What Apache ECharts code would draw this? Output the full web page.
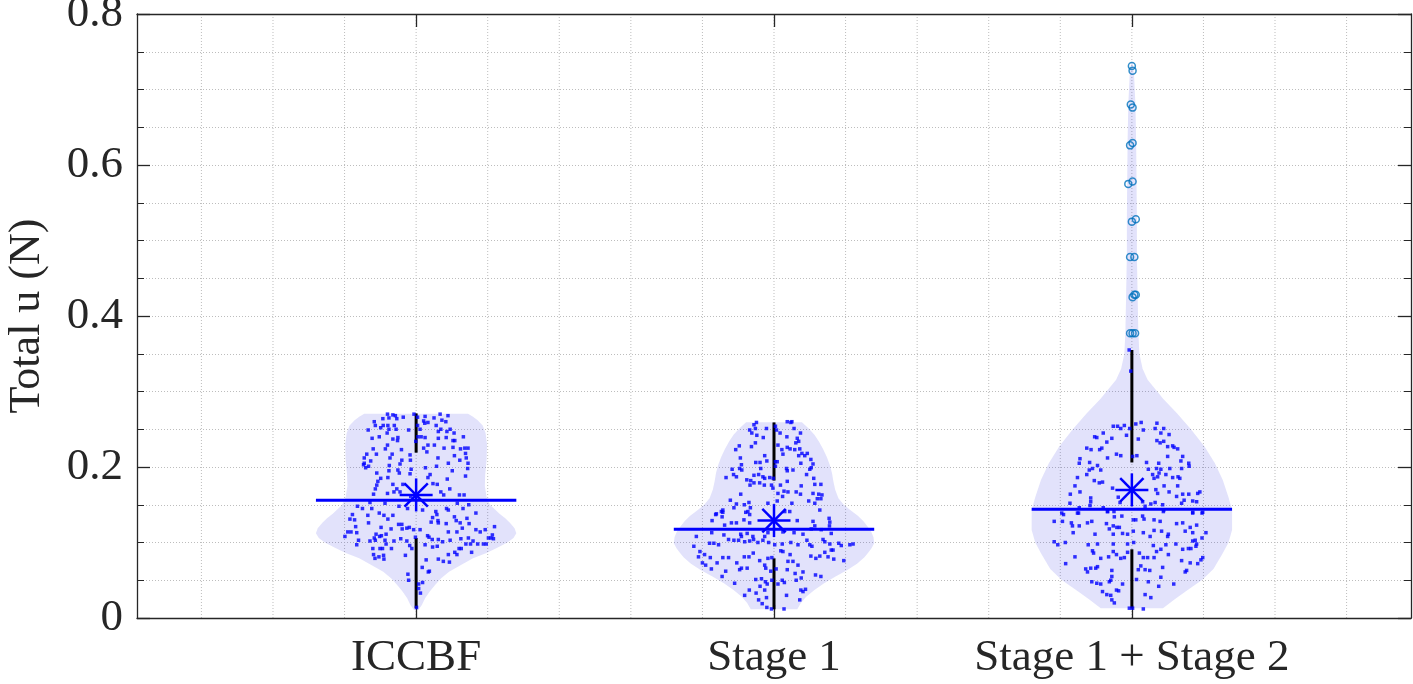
<!DOCTYPE html>
<html><head><meta charset="utf-8">
<script src="https://cdn.jsdelivr.net/npm/echarts@6/dist/echarts.min.js"></script>
<style>html,body{margin:0;padding:0;background:#fff}#c{width:1413px;height:684px}</style>
</head><body><div id="c"></div>
<script>
// ---------------- data ----------------
const categories = ['ICCBF', 'Stage 1', 'Stage 1 + Stage 2'];
const categoryX = [1, 2, 3];
const yAxisName = 'Total u (N)';
const xGridValues = [0.4,0.6,0.8,1,1.2,1.4,1.6,1.8,2,2.2,2.4,2.6,2.8,3,3.2,3.4,3.6];

// violin outlines: [y, half width in x-axis units], bottom to top
const iccbfViolin = [[0.0106,0.006],[0.0172,0.016],[0.0261,0.025],[0.035,0.038],[0.0437,0.053],[0.0526,0.07],[0.0614,0.092],[0.070,0.124],[0.0791,0.159],[0.0857,0.195],[0.0923,0.224],[0.100,0.255],[0.106,0.272],[0.1122,0.28],[0.119,0.275],[0.126,0.262],[0.1321,0.249],[0.138,0.233],[0.143,0.222],[0.1498,0.207],[0.16,0.197],[0.175,0.192],[0.19,0.193],[0.21,0.197],[0.23,0.198],[0.245,0.194],[0.255,0.186],[0.262,0.172],[0.267,0.158],[0.2705,0.145]];
const stage1Violin = [[0.0115,0.065],[0.02,0.075],[0.0283,0.09],[0.037,0.113],[0.046,0.14],[0.055,0.172],[0.0636,0.205],[0.072,0.232],[0.08,0.252],[0.0857,0.262],[0.092,0.272],[0.099,0.28],[0.107,0.278],[0.114,0.272],[0.121,0.262],[0.128,0.25],[0.135,0.235],[0.1432,0.213],[0.15,0.195],[0.1586,0.18],[0.17,0.171],[0.1807,0.166],[0.192,0.162],[0.2028,0.156],[0.214,0.147],[0.2249,0.136],[0.234,0.125],[0.2426,0.113],[0.251,0.097],[0.2594,0.078]];
const stage12Violin = [[0.0128,0.087],[0.0239,0.117],[0.035,0.15],[0.0504,0.196],[0.065,0.228],[0.0857,0.254],[0.1,0.27],[0.1166,0.28],[0.1432,0.28],[0.16,0.27],[0.1829,0.254],[0.205,0.232],[0.2271,0.203],[0.25,0.165],[0.2713,0.126],[0.29,0.088],[0.3155,0.044],[0.33,0.03],[0.35,0.021],[0.38,0.018],[0.43,0.016],[0.48,0.014],[0.53,0.014],[0.58,0.013],[0.63,0.012],[0.68,0.01],[0.72,0.006],[0.735,0.002]];

// individual samples: [x offset from category, value]
const iccbfSamples = [[-0.080,0.270],[-0.065,0.269],[-0.058,0.268],[-0.006,0.270],[0.025,0.267],[0.067,0.270],[0.089,0.268],[-0.093,0.264],[-0.076,0.265],[-0.054,0.264],[-0.036,0.266],[0.004,0.266],[0.021,0.261],[0.033,0.259],[0.050,0.265],[0.072,0.262],[0.083,0.260],[-0.117,0.260],[-0.114,0.255],[-0.092,0.255],[-0.079,0.255],[-0.061,0.255],[0.004,0.255],[0.024,0.258],[0.056,0.255],[0.069,0.250],[0.095,0.250],[-0.134,0.249],[-0.099,0.252],[-0.076,0.250],[-0.056,0.250],[-0.021,0.249],[0.011,0.250],[0.062,0.247],[0.086,0.247],[0.106,0.245],[-0.123,0.238],[-0.103,0.240],[-0.081,0.245],[-0.065,0.237],[-0.051,0.239],[0.005,0.240],[0.025,0.239],[0.062,0.238],[0.084,0.239],[0.103,0.235],[0.132,0.240],[0.108,0.235],[-0.052,0.235],[-0.001,0.234],[0.014,0.240],[-0.080,0.229],[-0.086,0.224],[-0.041,0.223],[0.033,0.229],[0.051,0.229],[0.030,0.220],[0.021,0.225],[0.078,0.225],[0.103,0.226],[0.124,0.224],[0.136,0.225],[0.145,0.225],[-0.120,0.224],[-0.138,0.217],[-0.111,0.217],[-0.067,0.217],[0.138,0.218],[-0.017,0.216],[0.061,0.212],[0.107,0.215],[-0.145,0.212],[-0.127,0.208],[-0.040,0.209],[-0.016,0.209],[0.122,0.209],[-0.073,0.212],[0.140,0.212],[-0.145,0.205],[-0.133,0.201],[-0.147,0.203],[-0.075,0.202],[-0.045,0.204],[0.090,0.205],[0.145,0.205],[0.026,0.199],[0.057,0.201],[-0.014,0.197],[-0.141,0.199],[-0.076,0.195],[-0.051,0.196],[0.101,0.195],[0.144,0.198],[-0.047,0.192],[-0.110,0.192],[-0.017,0.191],[0.039,0.190],[0.033,0.186],[-0.099,0.185],[-0.079,0.186],[0.087,0.184],[0.138,0.188],[-0.107,0.181],[-0.065,0.177],[-0.037,0.177],[0.047,0.178],[0.059,0.177],[-0.110,0.176],[-0.114,0.171],[-0.054,0.171],[-0.062,0.167],[-0.045,0.167],[0.094,0.171],[0.069,0.167],[-0.119,0.164],[-0.080,0.165],[0.077,0.163],[0.121,0.163],[0.134,0.163],[-0.015,0.161],[-0.164,0.148],[-0.150,0.145],[-0.129,0.153],[-0.087,0.152],[-0.048,0.148],[0.115,0.152],[0.147,0.150],[0.085,0.145],
[-0.124,0.145],[-0.024,0.145],[0.018,0.143],[0.090,0.143],[0.131,0.145],[-0.103,0.139],[-0.090,0.136],[-0.079,0.131],[-0.065,0.136],[0.055,0.141],[0.058,0.137],[0.046,0.133],[0.061,0.129],[0.107,0.134],[0.112,0.129],[0.123,0.126],[0.142,0.132],[0.167,0.139],[-0.178,0.137],[-0.185,0.131],[-0.172,0.130],[-0.135,0.136],[-0.133,0.126],[-0.169,0.121],[-0.098,0.120],[-0.070,0.118],[-0.049,0.124],[-0.040,0.124],[-0.039,0.118],[-0.026,0.119],[-0.019,0.120],[-0.007,0.117],[0.011,0.117],[0.042,0.127],[0.062,0.126],[0.084,0.125],[0.090,0.114],[0.114,0.114],[0.129,0.119],[0.148,0.125],[0.167,0.117],[0.179,0.114],[0.193,0.117],[0.219,0.121],[0.213,0.110],[-0.191,0.114],[-0.182,0.114],[-0.166,0.113],[-0.199,0.108],[-0.112,0.111],[-0.102,0.108],[-0.097,0.109],[-0.084,0.111],[-0.117,0.106],[-0.129,0.102],[-0.114,0.103],[-0.087,0.103],[-0.062,0.102],[-0.043,0.105],[-0.026,0.102],[-0.002,0.107],[0.032,0.109],[0.036,0.107],[0.045,0.104],[0.062,0.104],[0.074,0.101],[0.095,0.103],[0.125,0.105],[0.146,0.106],[0.159,0.102],[0.172,0.098],[0.188,0.098],[0.196,0.098],[0.202,0.106],[0.209,0.106],[0.216,0.105],[-0.161,0.103],[-0.166,0.097],[-0.121,0.092],[-0.101,0.092],[-0.094,0.092],[-0.084,0.098],[-0.069,0.092],[-0.018,0.096],[-0.012,0.092],[0.025,0.097],[0.046,0.094],[0.059,0.095],[0.090,0.084],[0.108,0.087],[0.120,0.092],[0.126,0.092],[0.139,0.098],[0.152,0.098],[0.155,0.087],[0.114,0.084],[-0.119,0.084],[-0.115,0.079],[-0.104,0.081],[-0.091,0.083],[-0.090,0.078],[-0.030,0.083],[0.028,0.077],[0.062,0.078],[0.076,0.075],[0.093,0.074],[0.017,0.067],[0.037,0.062],[0.034,0.061],[-0.023,0.058],[-0.021,0.050],[0.007,0.045],[0.018,0.047],[0.007,0.039],[0.012,0.033],[0.001,0.014]];

const stage1Samples = [[-0.049,0.259],[-0.056,0.256],[-0.052,0.251],[-0.068,0.249],[-0.062,0.245],[-0.048,0.242],[-0.030,0.239],[-0.021,0.251],[0.004,0.254],[0.007,0.249],[0.037,0.260],[0.047,0.259],[0.050,0.260],[0.056,0.251],[0.017,0.245],[0.036,0.240],[0.065,0.238],[0.069,0.234],[0.061,0.232],[0.074,0.245],[-0.097,0.228],[-0.107,0.223],[-0.063,0.227],[-0.052,0.232],[0.011,0.229],[0.022,0.223],[0.025,0.217],[0.037,0.226],[0.045,0.224],[0.058,0.223],[0.072,0.224],[0.078,0.218],[0.069,0.215],[0.086,0.215],[0.093,0.218],[0.103,0.210],[0.109,0.204],[0.104,0.199],[-0.094,0.212],[-0.091,0.203],[-0.096,0.198],[-0.090,0.196],[-0.117,0.197],[-0.113,0.190],[-0.134,0.186],[-0.105,0.187],[-0.051,0.206],[-0.039,0.206],[-0.026,0.215],[-0.020,0.208],[-0.037,0.198],[-0.043,0.190],[-0.056,0.189],[-0.031,0.187],[-0.026,0.185],[-0.012,0.186],[-0.065,0.182],[-0.067,0.176],[-0.076,0.183],[-0.056,0.179],[-0.040,0.179],[-0.027,0.176],[-0.002,0.185],[0.004,0.207],[0.004,0.201],[0.009,0.207],[0.035,0.198],[0.037,0.195],[0.053,0.196],[0.075,0.205],[0.100,0.197],[0.091,0.190],[0.111,0.185],[0.037,0.181],[0.018,0.176],[-0.003,0.172],[-0.007,0.176],[0.028,0.168],[0.011,0.165],[0.024,0.161],[0.039,0.167],[0.062,0.167],[0.074,0.164],[0.076,0.175],[0.114,0.177],[0.131,0.177],[0.109,0.165],[0.125,0.164],[0.134,0.163],[0.121,0.158],[0.131,0.158],[0.097,0.155],[0.114,0.152],[0.128,0.143],[-0.093,0.164],[-0.105,0.151],[-0.122,0.156],[-0.112,0.146],[-0.070,0.153],[-0.066,0.146],[-0.073,0.141],[-0.083,0.150],[-0.017,0.152],[0.009,0.155],[0.050,0.152],[-0.147,0.141],[-0.143,0.143],[-0.163,0.137],
[-0.161,0.138],[-0.143,0.140],[-0.145,0.134],[-0.173,0.129],[-0.138,0.123],[-0.119,0.126],[-0.105,0.126],[-0.084,0.130],[-0.068,0.126],[-0.079,0.140],[-0.068,0.137],[0.030,0.141],[0.044,0.141],[0.065,0.129],[0.109,0.128],[0.154,0.132],[0.156,0.127],[0.155,0.122],[0.114,0.122],[-0.174,0.113],[-0.140,0.110],[-0.093,0.111],[-0.091,0.108],[-0.075,0.112],[-0.059,0.108],[-0.026,0.108],[-0.017,0.113],[0.025,0.114],[0.056,0.113],[0.081,0.111],[0.104,0.118],[0.132,0.117],[0.160,0.112],[-0.224,0.095],[-0.217,0.108],[-0.180,0.099],[-0.168,0.099],[-0.155,0.097],[-0.127,0.104],[-0.112,0.103],[-0.099,0.103],[-0.082,0.101],[-0.068,0.102],[-0.057,0.104],[-0.045,0.100],[-0.031,0.103],[-0.015,0.100],[0.002,0.097],[0.023,0.098],[0.047,0.100],[0.067,0.097],[0.092,0.103],[0.100,0.097],[0.106,0.095],[0.137,0.104],[0.142,0.101],[0.156,0.098],[0.165,0.090],[0.181,0.099],[0.188,0.096],[0.212,0.097],[0.221,0.098],[-0.207,0.088],[-0.211,0.081],[-0.194,0.084],[-0.178,0.080],[-0.159,0.073],[-0.143,0.080],[-0.127,0.080],[-0.104,0.073],[-0.083,0.081],[-0.070,0.081],[-0.058,0.086],[-0.040,0.076],[-0.026,0.070],[-0.017,0.079],[-0.006,0.080],[0.019,0.089],[0.025,0.088],[0.039,0.075],[0.045,0.084],[0.053,0.075],[0.067,0.070],[0.081,0.061],[0.103,0.082],[0.117,0.079],[0.128,0.082],[0.142,0.087],[0.151,0.081],[0.160,0.090],[0.167,0.078],[0.195,0.076],[-0.200,0.073],[-0.191,0.070],[-0.175,0.065],[-0.135,0.062],[-0.096,0.064],[-0.091,0.066],[-0.075,0.066],[-0.023,0.066],[-0.009,0.062],[0.006,0.065],[0.037,0.064],[0.059,0.059],[0.116,0.057],[0.131,0.055],[-0.145,0.055],[-0.051,0.051],[-0.035,0.052],[-0.024,0.048],[-0.019,0.045],[-0.039,0.042],[-0.006,0.050],[0.011,0.045],[0.023,0.050],[0.029,0.047],[0.062,0.050],[0.076,0.053],[-0.110,0.046],[-0.069,0.037],[-0.050,0.033],[-0.026,0.037],[-0.021,0.027],[-0.043,0.024],[-0.082,0.030],[-0.033,0.019],[-0.020,0.014],[-0.007,0.012],[0.028,0.012],[0.035,0.030],[0.075,0.037],[0.081,0.035],[0.088,0.038],[0.072,0.024]];

const stage12Samples = [[-0.0075,0.355],[-0.003,0.327],[-0.052,0.254],[-0.040,0.254],[-0.031,0.251],[-0.021,0.255],[-0.006,0.251],[0.011,0.257],[0.026,0.259],[0.070,0.258],[0.032,0.249],[0.065,0.251],[0.089,0.251],[0.081,0.245],[0.104,0.243],[-0.080,0.245],[-0.104,0.240],[-0.098,0.239],[-0.070,0.233],[-0.056,0.238],[-0.015,0.242],[0.018,0.237],[0.070,0.235],[0.079,0.232],[0.089,0.234],[0.100,0.227],[0.114,0.228],[0.118,0.226],[0.128,0.224],[-0.126,0.225],[-0.114,0.223],[-0.090,0.223],[-0.084,0.225],[-0.043,0.217],[-0.031,0.215],[-0.068,0.212],[-0.145,0.211],[-0.147,0.205],[-0.118,0.206],[-0.096,0.202],[-0.110,0.198],[-0.119,0.196],[-0.087,0.196],[0.002,0.214],[0.014,0.215],[0.041,0.206],[0.075,0.205],[0.069,0.198],[0.081,0.197],[0.106,0.198],[0.100,0.214],[0.137,0.208],[0.142,0.214],[0.159,0.205],[0.160,0.201],[0.139,0.198],[0.114,0.186],[0.129,0.187],[0.134,0.185],[-0.152,0.186],[-0.126,0.190],[-0.105,0.182],[-0.091,0.179],[-0.082,0.180],[-0.159,0.175],[-0.145,0.167],[-0.172,0.164],[-0.115,0.159],[-0.115,0.154],[-0.054,0.172],[-0.038,0.160],[-0.033,0.153],[0.046,0.197],[0.058,0.190],[0.072,0.187],[0.062,0.185],[0.076,0.192],[0.095,0.190],[0.090,0.175],[0.128,0.175],[0.067,0.170],[0.072,0.165],[0.104,0.167],[0.125,0.161],[0.142,0.164],[0.159,0.164],[0.184,0.165],[0.190,0.167],[0.146,0.156],[0.170,0.155],[0.181,0.154],[-0.173,0.152],[-0.147,0.146],[-0.117,0.149],[-0.080,0.146],[-0.068,0.141],[-0.050,0.141],[0.030,0.154],[0.037,0.148],[0.053,0.151],[0.065,0.153],[0.086,0.150],[0.089,0.143],[0.139,0.152],[0.170,0.140],[0.196,0.139],[-0.152,0.139],[-0.196,0.139],
[-0.191,0.137],[-0.149,0.139],[-0.068,0.141],[-0.049,0.134],[-0.028,0.135],[0.030,0.135],[0.034,0.131],[0.062,0.130],[0.079,0.128],[0.088,0.141],[0.170,0.139],[0.198,0.140],[-0.217,0.128],[-0.194,0.128],[-0.169,0.126],[-0.166,0.122],[-0.147,0.122],[-0.124,0.126],[-0.112,0.128],[-0.071,0.125],[-0.052,0.122],[-0.042,0.120],[-0.035,0.120],[-0.063,0.118],[0.004,0.130],[0.011,0.130],[0.125,0.125],[0.142,0.126],[0.163,0.120],[0.181,0.123],[0.207,0.113],[-0.164,0.113],[-0.103,0.111],[-0.052,0.111],[-0.026,0.112],[-0.012,0.111],[0.004,0.115],[0.032,0.113],[0.051,0.108],[0.062,0.116],[0.083,0.115],[0.102,0.111],[0.100,0.108],[0.149,0.115],[0.170,0.113],[0.177,0.103],[0.196,0.106],[-0.217,0.101],[-0.207,0.097],[-0.186,0.100],[-0.122,0.097],[-0.096,0.098],[-0.052,0.098],[-0.012,0.098],[0.005,0.100],[0.060,0.096],[0.095,0.097],[0.123,0.098],[0.170,0.102],[0.181,0.098],[0.179,0.095],[0.165,0.092],[0.142,0.091],[0.158,0.092],[-0.110,0.089],[-0.107,0.086],[-0.052,0.088],[-0.043,0.084],[-0.065,0.081],[-0.031,0.079],[-0.021,0.080],[-0.012,0.087],[0.021,0.086],[0.032,0.080],[0.044,0.080],[0.062,0.080],[0.069,0.088],[0.081,0.091],[0.102,0.084],[0.139,0.076],[0.163,0.073],[0.184,0.072],[0.193,0.077],[0.198,0.080],[-0.185,0.072],[-0.159,0.081],[-0.129,0.065],[-0.124,0.061],[-0.115,0.066],[-0.101,0.066],[-0.096,0.068],[-0.087,0.079],[-0.056,0.063],[0.018,0.064],[0.025,0.069],[0.037,0.064],[0.050,0.063],[0.086,0.067],[0.153,0.063],[0.149,0.061],[-0.056,0.055],[-0.059,0.050],[-0.112,0.048],[-0.098,0.046],[-0.087,0.045],[-0.063,0.048],[-0.026,0.045],[0.013,0.051],[0.046,0.048],[0.081,0.054],[0.075,0.042],[0.117,0.045],[-0.082,0.035],[-0.070,0.031],[-0.059,0.030],[-0.043,0.037],[-0.037,0.036],[-0.056,0.024],[-0.049,0.020],[0.037,0.031],[0.053,0.027],[-0.007,0.013],[0.002,0.013],[0.032,0.012]];

const stage12Outliers = [[0.000,0.731],[0.002,0.725],[-0.003,0.680],[0.002,0.676],[-0.005,0.626],[0.002,0.629],[-0.010,0.575],[0.002,0.578],[0.000,0.525],[0.011,0.528],[-0.005,0.478],[0.007,0.478],[0.002,0.425],[0.007,0.428],[0.011,0.428],[-0.005,0.377],[0.002,0.377],[0.009,0.377]];

// summary statistics per category
const lowerWhisker = [[0.013,0.106],[0.0115,0.079],[0.0128,0.091]];
const upperWhisker = [[0.219,0.271],[0.182,0.259],[0.206,0.355]];
const medianValues = [0.156,0.1175,0.144];
const meanValues = [0.163,0.129,0.1697];
const medianHalfWidth = 0.28;

// ---------------- chart ----------------
const FONT = '"Liberation Serif","Times New Roman",Times,serif';
const AX = '#262626';
const GRIDC = '#bdbdbd';
const violins = [iccbfViolin, stage1Violin, stage12Violin];
const samples = [iccbfSamples, stage1Samples, stage12Samples];

function violinPolygon(cx, shape) {
  const right = shape.map(([y, w]) => [cx + w, y]);
  const left = shape.slice().reverse().map(([y, w]) => [cx - w, y]);
  return right.concat(left);
}

const chart = echarts.init(document.getElementById('c'));
const sampleData = [];
samples.forEach((arr, i) => arr.forEach(([dx, y]) => sampleData.push([categoryX[i] + dx, y])));
const outlierData = stage12Outliers.map(([dx, y]) => [categoryX[2] + dx, y]);

const option = {
  animation: false,
  backgroundColor: '#ffffff',
  grid: { left: 137, right: 2, top: 14, bottom: 66, containLabel: false, outerBoundsMode: 'none' },
  xAxis: [
    { type: 'value', position: 'bottom', min: 0.22, max: 3.78,
      axisLine: { show: true, onZero: false, lineStyle: { color: AX, width: 1.3 } },
      axisTick: { show: true, inside: true, length: 13, customValues: categoryX, lineStyle: { color: AX, width: 1.3 } },
      axisLabel: { show: true, customValues: categoryX, margin: 18, color: AX, fontFamily: FONT, fontSize: 45,
        formatter: v => categories[categoryX.indexOf(Math.round(v))] },
      splitLine: { show: false } },
    { type: 'value', position: 'top', min: 0.22, max: 3.78,
      axisLine: { show: true, onZero: false, lineStyle: { color: AX, width: 1.3 } },
      axisTick: { show: true, inside: true, length: 13, customValues: categoryX, lineStyle: { color: AX, width: 1.3 } },
      axisLabel: { show: false }, splitLine: { show: false } }
  ],
  yAxis: [
    { type: 'value', position: 'left', min: 0, max: 0.8, interval: 0.2,
      name: yAxisName, nameLocation: 'middle', nameGap: 88,
      nameTextStyle: { color: AX, fontFamily: FONT, fontSize: 44 },
      axisLine: { show: true, onZero: false, lineStyle: { color: AX, width: 1.3 } },
      axisTick: { show: true, inside: true, length: 13, lineStyle: { color: AX, width: 1.3 } },
      minorTick: { show: true, splitNumber: 4, length: 7, lineStyle: { color: AX, width: 1 } },
      axisLabel: { margin: 14, color: AX, fontFamily: FONT, fontSize: 45, padding: [10, 0, 0, 0] },
      splitLine: { show: true, lineStyle: { color: GRIDC, width: 1, type: [1, 2] } },
      minorSplitLine: { show: true, lineStyle: { color: GRIDC, width: 1, type: [1, 2] } } },
    { type: 'value', position: 'right', min: 0, max: 0.8, interval: 0.2,
      axisLine: { show: true, onZero: false, lineStyle: { color: AX, width: 1.3 } },
      axisTick: { show: true, inside: true, length: 13, lineStyle: { color: AX, width: 1.3 } },
      minorTick: { show: true, splitNumber: 4, length: 7, lineStyle: { color: AX, width: 1 } },
      axisLabel: { show: false }, splitLine: { show: false } }
  ],
  series: [
    { // vertical dotted grid lines
      type: 'custom', silent: true, z: 0,
      data: xGridValues.map(v => [v]),
      renderItem: (params, api) => {
        const v = api.value(0);
        const p0 = api.coord([v, 0]), p1 = api.coord([v, 0.8]);
        return { type: 'line', shape: { x1: p0[0], y1: p0[1], x2: p1[0], y2: p1[1] },
          style: { stroke: GRIDC, lineWidth: 1, lineDash: [1, 2] } };
      }
    },
    { // violins
      type: 'custom', silent: true,
      data: categoryX.map((x, i) => [x, i]),
      renderItem: (params, api) => {
        const g = params.dataIndex;
        const pts = violinPolygon(categoryX[g], violins[g]).map(p => api.coord(p));
        return { type: 'polygon', shape: { points: pts }, style: { fill: 'rgba(20,20,220,0.12)' } };
      }
    },
    { // whiskers
      type: 'custom', silent: true,
      data: categoryX.map((x, i) => [x, i]),
      renderItem: (params, api) => {
        const g = params.dataIndex, cx = categoryX[g];
        const segs = [lowerWhisker[g], upperWhisker[g]].map(([a, b]) => {
          const p0 = api.coord([cx, a]), p1 = api.coord([cx, b]);
          return { type: 'line', shape: { x1: p0[0], y1: p0[1], x2: p1[0], y2: p1[1] },
            style: { stroke: '#000000', lineWidth: 3 } };
        });
        return { type: 'group', children: segs };
      }
    },
    { // samples
      type: 'scatter', silent: true, symbol: 'rect', symbolSize: 3.5,
      itemStyle: { color: '#0000ff' }, data: sampleData
    },
    { // outliers
      type: 'scatter', silent: true, symbol: 'circle', symbolSize: 7,
      itemStyle: { color: 'rgba(0,0,0,0)', borderColor: '#0072BD', borderWidth: 1.5 }, data: outlierData
    },
    { // median lines
      type: 'custom', silent: true,
      data: categoryX.map((x, i) => [x, i]),
      renderItem: (params, api) => {
        const g = params.dataIndex, cx = categoryX[g];
        const p0 = api.coord([cx - medianHalfWidth, medianValues[g]]);
        const p1 = api.coord([cx + medianHalfWidth, medianValues[g]]);
        return { type: 'line', shape: { x1: p0[0], y1: p0[1], x2: p1[0], y2: p1[1] },
          style: { stroke: '#0000ff', lineWidth: 3 } };
      }
    },
    { // mean asterisks
      type: 'custom', silent: true,
      data: categoryX.map((x, i) => [x, i]),
      renderItem: (params, api) => {
        const g = params.dataIndex;
        const c = api.coord([categoryX[g], meanValues[g]]);
        const r = 16.5, d = r * 0.7071;
        const arms = [[-r, 0, r, 0], [0, -r, 0, r], [-d, -d, d, d], [-d, d, d, -d]];
        return { type: 'group', children: arms.map(a => ({ type: 'line',
          shape: { x1: c[0] + a[0], y1: c[1] + a[1], x2: c[0] + a[2], y2: c[1] + a[3] },
          style: { stroke: '#0000ff', lineWidth: 2.5 } })) };
      }
    }
  ]
};
chart.setOption(option);
</script>
</body></html>
